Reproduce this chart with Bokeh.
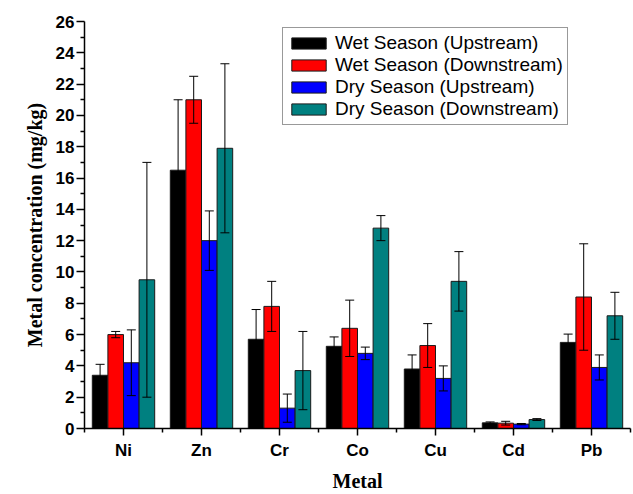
from bokeh.plotting import figure
from bokeh.models import (ColumnDataSource, FixedTicker, Whisker, TeeHead, Range1d)
from bokeh.embed import file_html
from bokeh.resources import INLINE

metals = ["Ni", "Zn", "Cr", "Co", "Cu", "Cd", "Pb"]

wet_up = [3.4, 16.5, 5.7, 5.25, 3.8, 0.36, 5.5]
wet_up_err = [0.7, 4.5, 1.9, 0.6, 0.9, 0.06, 0.53]
wet_down = [6.0, 21.0, 7.8, 6.4, 5.3, 0.34, 8.4]
wet_down_err = [0.2, 1.5, 1.6, 1.8, 1.4, 0.12, 3.4]
dry_up = [4.2, 12.0, 1.3, 4.8, 3.2, 0.28, 3.9]
dry_up_err = [2.1, 1.9, 0.9, 0.4, 0.8, 0.04, 0.8]
dry_down = [9.5, 17.9, 3.7, 12.8, 9.4, 0.57, 7.2]
dry_down_err = [7.5, 5.4, 2.5, 0.8, 1.9, 0.06, 1.5]

series_names = ["Wet Season (Upstream)", "Wet Season (Downstream)",
                "Dry Season (Upstream)", "Dry Season (Downstream)"]
series_vals = [wet_up, wet_down, dry_up, dry_down]
series_errs = [wet_up_err, wet_down_err, dry_up_err, dry_down_err]
colors = ["#000000", "#FF0000", "#0000FF", "#008080"]
offsets = [-0.3, -0.1, 0.1, 0.3]

y_ticks = list(range(0, 27, 2))
y_minor = list(range(1, 26, 2))

p = figure(width=633, height=494, x_range=Range1d(0.5, 7.5), y_range=Range1d(0, 26),
           output_backend="svg", toolbar_location=None,
           min_border_left=84, min_border_top=21, min_border_right=3, min_border_bottom=50)
p.xgrid.visible = False
p.ygrid.visible = False
p.outline_line_color = None
p.background_fill_color = "white"

for name, vals, errs, col, off in zip(series_names, series_vals, series_errs, colors, offsets):
    xs = [i + 1 + off for i in range(len(metals))]
    src = ColumnDataSource(dict(
        x=xs, top=vals,
        upper=[v + e for v, e in zip(vals, errs)],
        lower=[v - e for v, e in zip(vals, errs)],
    ))
    p.vbar(x="x", top="top", width=0.2, source=src, fill_color=col,
           line_color="#1a1a1a", line_width=1, legend_label=name)
    w = Whisker(source=src, base="x", upper="upper", lower="lower",
                line_color="black", line_width=1, level="overlay",
                upper_head=TeeHead(size=9, line_color="black", line_width=1),
                lower_head=TeeHead(size=9, line_color="black", line_width=1))
    p.add_layout(w)

# axes
p.xaxis.ticker = FixedTicker(ticks=[i + 1 for i in range(len(metals))],
                             minor_ticks=[i + 0.5 for i in range(len(metals) + 1)])
p.xaxis.major_label_overrides = {i + 1: m for i, m in enumerate(metals)}
p.yaxis.ticker = FixedTicker(ticks=y_ticks, minor_ticks=y_minor)

for ax in (p.xaxis[0], p.yaxis[0]):
    ax.axis_line_color = "black"
    ax.axis_line_width = 1.5
    ax.major_tick_line_color = "black"
    ax.major_tick_line_width = 1.5
    ax.minor_tick_line_color = "black"
    ax.minor_tick_line_width = 1.5
    ax.major_tick_in = 0
    ax.minor_tick_in = 0
    ax.major_label_text_font = "Liberation Sans"
    ax.major_label_text_font_style = "bold"
    ax.major_label_text_font_size = "17px"
    ax.major_label_text_color = "black"
    ax.axis_label_text_font = "Liberation Serif"
    ax.axis_label_text_font_style = "bold"
    ax.axis_label_text_font_size = "20px"
    ax.axis_label_text_color = "black"

p.xaxis.major_tick_out = 7
p.xaxis.minor_tick_out = 4
p.xaxis.major_label_standoff = 5
p.xaxis.axis_label = "Metal"
p.xaxis.axis_label_standoff = 7

p.yaxis.major_tick_out = 8
p.yaxis.minor_tick_out = 4
p.yaxis.major_label_standoff = 2
p.yaxis.axis_label = "Metal concentration (mg/kg)"
p.yaxis.axis_label_standoff = 7

lg = p.legend[0]
lg.location = (198, 303)
lg.label_text_font = "Liberation Sans"
lg.label_text_font_size = "19px"
lg.label_text_color = "black"
lg.glyph_width = 43
lg.glyph_height = 14
lg.label_height = 19
lg.label_standoff = 5
lg.spacing = 0
lg.padding = 4
lg.margin = 0
lg.border_line_color = "#333333"
lg.border_line_width = 1
lg.background_fill_alpha = 1.0

open("out.html", "w").write(file_html(p, INLINE))
